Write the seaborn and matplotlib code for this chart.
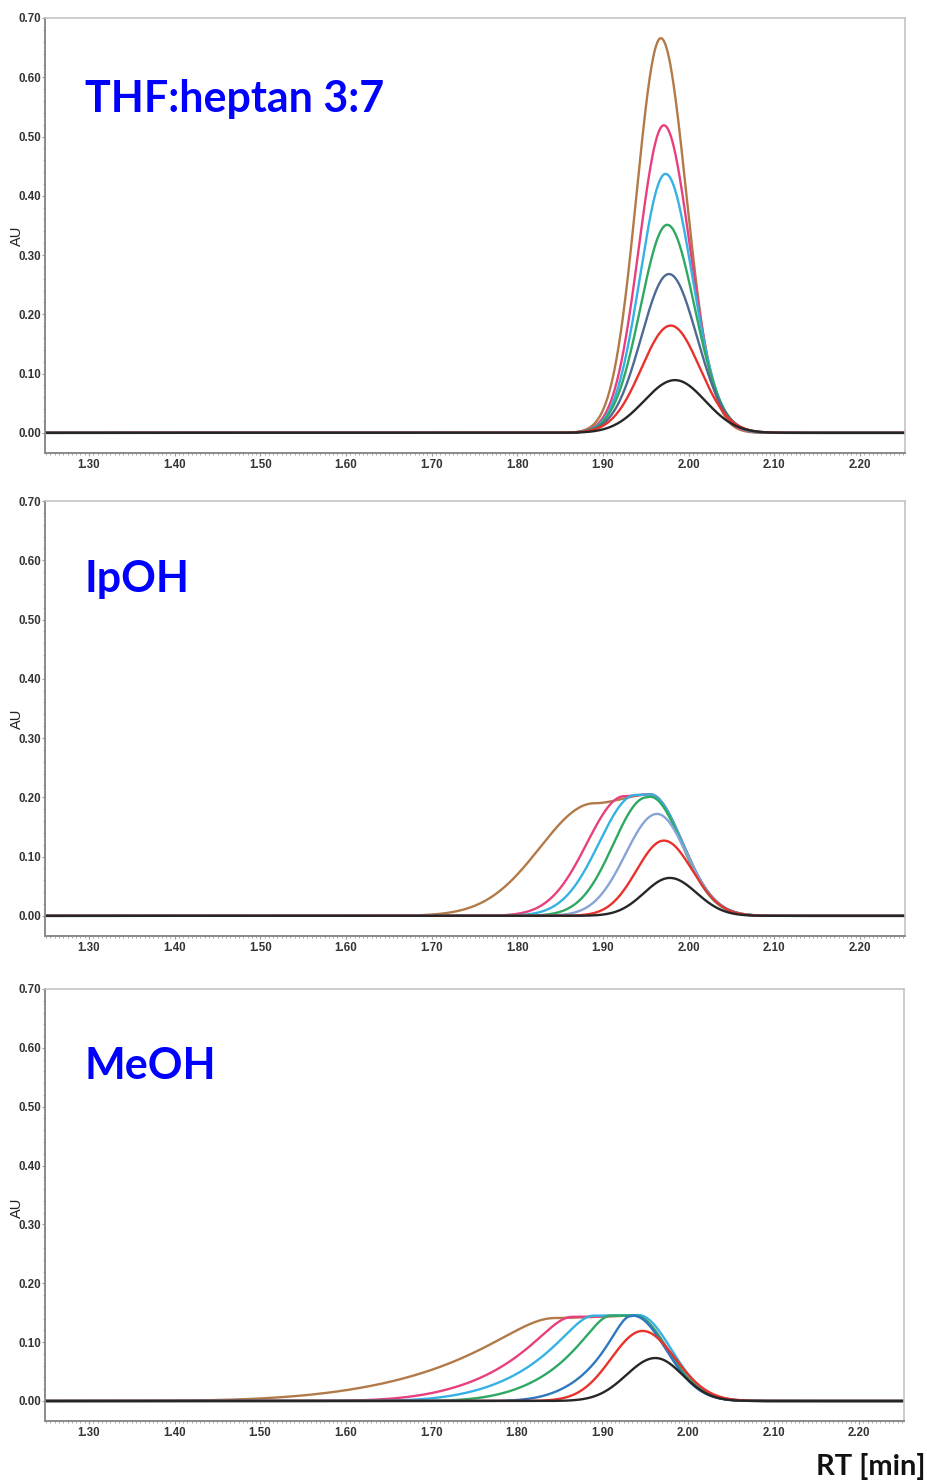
import numpy as np
import pandas as pd
import matplotlib
matplotlib.use("Agg")
import matplotlib.pyplot as plt
import seaborn as sns
from matplotlib.ticker import FixedLocator, MultipleLocator, FormatStrFormatter

sns.set_theme(style="white")
plt.rcParams["font.family"] = ["Liberation Sans", "DejaVu Sans"]

# Injections, largest load first (drawing order: largest underneath)
injections = ["7", "6", "5", "4", "3", "2", "1"]

panel_titles = ["THF:heptan 3:7", "IpOH", "MeOH"]

# Line colours per injection (same order as `injections`)
colors_thf = ["#b27a48", "#e8407f", "#35b2e3", "#2ea862", "#4d6a94", "#e8322b", "#262626"]
colors_ipoh = ["#b27a48", "#e8407f", "#35b2e3", "#2ea862", "#86a4d6", "#e8322b", "#262626"]
colors_meoh = ["#b27a48", "#e8407f", "#35b2e3", "#2ea862", "#2f78bf", "#e8322b", "#262626"]

# Peak descriptions (AU / min), one entry per injection:
#   height at the end of the top, height where the top begins,
#   start and end of the top,
#   front core width, front tail onset (0 = purely Gaussian edge), front cut-off (0 = none),
#   rear core width
thf_height = [0.666, 0.519, 0.437, 0.351, 0.268, 0.181, 0.089]
thf_top_start_height = [0.666, 0.519, 0.437, 0.351, 0.268, 0.181, 0.089]
thf_top_start = [1.9675, 1.971, 1.973, 1.975, 1.977, 1.979, 1.984]
thf_top_end = [1.9675, 1.971, 1.973, 1.975, 1.977, 1.979, 1.984]
thf_front_width = [0.040, 0.041, 0.042, 0.044, 0.0455, 0.048, 0.051]
thf_front_tail = [0.0, 0.0, 0.0, 0.0, 0.0, 0.0, 0.0]
thf_front_cutoff = [0.0, 0.0, 0.0, 0.0, 0.0, 0.0, 0.0]
thf_rear_width = [0.042, 0.043, 0.044, 0.045, 0.046, 0.048, 0.050]

ipoh_height = [0.205, 0.205, 0.205, 0.201, 0.172, 0.127, 0.064]
ipoh_top_start_height = [0.190, 0.202, 0.204, 0.200, 0.172, 0.127, 0.064]
ipoh_top_start = [1.890, 1.925, 1.938, 1.951, 1.963, 1.971, 1.978]
ipoh_top_end = [1.955, 1.955, 1.955, 1.955, 1.963, 1.971, 1.978]
ipoh_front_width = [0.090, 0.062, 0.060, 0.055, 0.052, 0.045, 0.0424]
ipoh_front_tail = [0.0, 0.0, 0.0, 0.0, 0.0, 0.0, 0.0]
ipoh_front_cutoff = [0.0, 0.0, 0.0, 0.0, 0.0, 0.0, 0.0]
ipoh_rear_width = [0.053, 0.053, 0.053, 0.052, 0.049, 0.047, 0.044]

meoh_height = [0.145, 0.145, 0.146, 0.145, 0.145, 0.119, 0.073]
meoh_top_start_height = [0.141, 0.143, 0.145, 0.145, 0.144, 0.119, 0.073]
meoh_top_start = [1.845, 1.865, 1.890, 1.910, 1.933, 1.947, 1.962]
meoh_top_end = [1.937, 1.938, 1.942, 1.938, 1.936, 1.947, 1.962]
meoh_front_width = [0.1037, 0.063, 0.0575, 0.0483, 0.0351, 0.052, 0.048]
meoh_front_tail = [0.050, 0.030, 0.0274, 0.023, 0.0167, 0.0, 0.0]
meoh_front_cutoff = [0.375, 0.225, 0.205, 0.170, 0.125, 0.0, 0.0]
meoh_rear_width = [0.054, 0.054, 0.054, 0.054, 0.054, 0.054, 0.045]

x_ticks = [1.30, 1.40, 1.50, 1.60, 1.70, 1.80, 1.90, 2.00, 2.10, 2.20]
y_ticks = [0.00, 0.10, 0.20, 0.30, 0.40, 0.50, 0.60, 0.70]

T_MIN, T_MAX = 1.2486, 2.2525
Y_MIN, Y_MAX = -0.034, 0.70


def edge(d, w, a=0.0, c=0.0):
    """Relative peak edge: Gaussian core of width w, exponential tail beyond ~a,
    tail fading out around c."""
    if a <= 0:
        expo = (d / w) ** 2
    else:
        expo = (2 * a * a / (w * w)) * (np.sqrt(1 + (d / a) ** 2) - 1)
    if c > 0:
        expo = expo + (d / c) ** 4
    return np.exp(-expo)


def peak_trace(t, h, h0, t0, t1, wf, af, cf, wr):
    """Chromatographic peak: fronting edge, optional flat top, rear edge."""
    y = np.zeros_like(t)
    front = t < t0
    y[front] = h0 * edge(t0 - t[front], wf, af, cf)
    top = (t >= t0) & (t <= t1)
    if t1 > t0:
        u = (t[top] - t0) / (t1 - t0)
        y[top] = h0 + (h - h0) * (3 * u ** 2 - 2 * u ** 3)
    else:
        y[top] = h
    rear = t > t1
    y[rear] = h * edge(t[rear] - t1, wr)
    return y


def build_frame(params):
    t = np.arange(T_MIN, T_MAX, 0.0005)
    rows = []
    for i, name in enumerate(injections):
        au = peak_trace(t, *(p[i] for p in params))
        rows.append(pd.DataFrame({"RT": t, "AU": au, "injection": name}))
    return pd.concat(rows, ignore_index=True)


panels = [
    (panel_titles[0], colors_thf,
     [thf_height, thf_top_start_height, thf_top_start, thf_top_end,
      thf_front_width, thf_front_tail, thf_front_cutoff, thf_rear_width]),
    (panel_titles[1], colors_ipoh,
     [ipoh_height, ipoh_top_start_height, ipoh_top_start, ipoh_top_end,
      ipoh_front_width, ipoh_front_tail, ipoh_front_cutoff, ipoh_rear_width]),
    (panel_titles[2], colors_meoh,
     [meoh_height, meoh_top_start_height, meoh_top_start, meoh_top_end,
      meoh_front_width, meoh_front_tail, meoh_front_cutoff, meoh_rear_width]),
]

W, H = 928, 1484
fig = plt.figure(figsize=(W / 100, H / 100), dpi=100)
fig.patch.set_facecolor("white")

# pixel boxes: (left, top, right, bottom)
boxes = [(45, 18, 905, 453), (45, 501, 905, 936), (45, 989, 904, 1421)]
title_y = [99, 579, 1066]
au_y = [236, 719, 1208]

for (title, colors, params), (l, tp, r, b), ty, ay in zip(panels, boxes, title_y, au_y):
    ax = fig.add_axes([l / W, 1 - b / H, (r - l) / W, (b - tp) / H])
    df = build_frame(params)
    sns.lineplot(data=df, x="RT", y="AU", hue="injection", hue_order=injections,
                 palette=colors, estimator=None, errorbar=None, legend=False,
                 linewidth=1.7, ax=ax)
    ax.set_xlim(T_MIN, T_MAX)
    ax.set_ylim(Y_MIN, Y_MAX)
    ax.set_xlabel("")
    ax.set_ylabel("")
    ax.xaxis.set_major_locator(FixedLocator(x_ticks))
    ax.xaxis.set_minor_locator(MultipleLocator(0.005))
    ax.yaxis.set_major_locator(FixedLocator(y_ticks))
    ax.yaxis.set_minor_locator(FixedLocator(np.arange(0.0, 0.701, 0.02)))
    ax.xaxis.set_major_formatter(FormatStrFormatter("%.2f"))
    ax.yaxis.set_major_formatter(FormatStrFormatter("%.2f"))
    ax.tick_params(which="both", direction="out", colors="#9a9a9a",
                   labelcolor="#333333", bottom=True, left=True)
    ax.tick_params(which="major", length=2.2, width=0.8, labelsize=8.3)
    ax.tick_params(which="minor", length=1.4, width=0.6)
    ax.tick_params(axis="y", which="major", pad=0.6)
    ax.tick_params(axis="x", which="major", pad=2.2)
    for lab in ax.get_xticklabels() + ax.get_yticklabels():
        lab.set_fontweight("bold")
    for side in ("left", "bottom"):
        ax.spines[side].set_color("#8a8a8a")
        ax.spines[side].set_linewidth(1.4)
    for side in ("top", "right"):
        ax.spines[side].set_color("#c4c4c4")
        ax.spines[side].set_linewidth(1.2)
    ax.grid(False)

    fig.text(85 / W, 1 - ty / H, title, ha="left", va="center", fontsize=31,
             fontweight="bold", color="#0000ff", family=["Lato", "DejaVu Sans"])
    fig.text(17 / W, 1 - ay / H, "AU", ha="center", va="center", rotation=90,
             fontsize=10.5, color="#222222")

fig.text(926 / W, 1 - 1467 / H, "RT [min]", ha="right", va="center", fontsize=21,
         fontweight="bold", color="#111111", family=["Lato", "DejaVu Sans"])

fig.savefig("out.png", dpi=100, facecolor="white")
